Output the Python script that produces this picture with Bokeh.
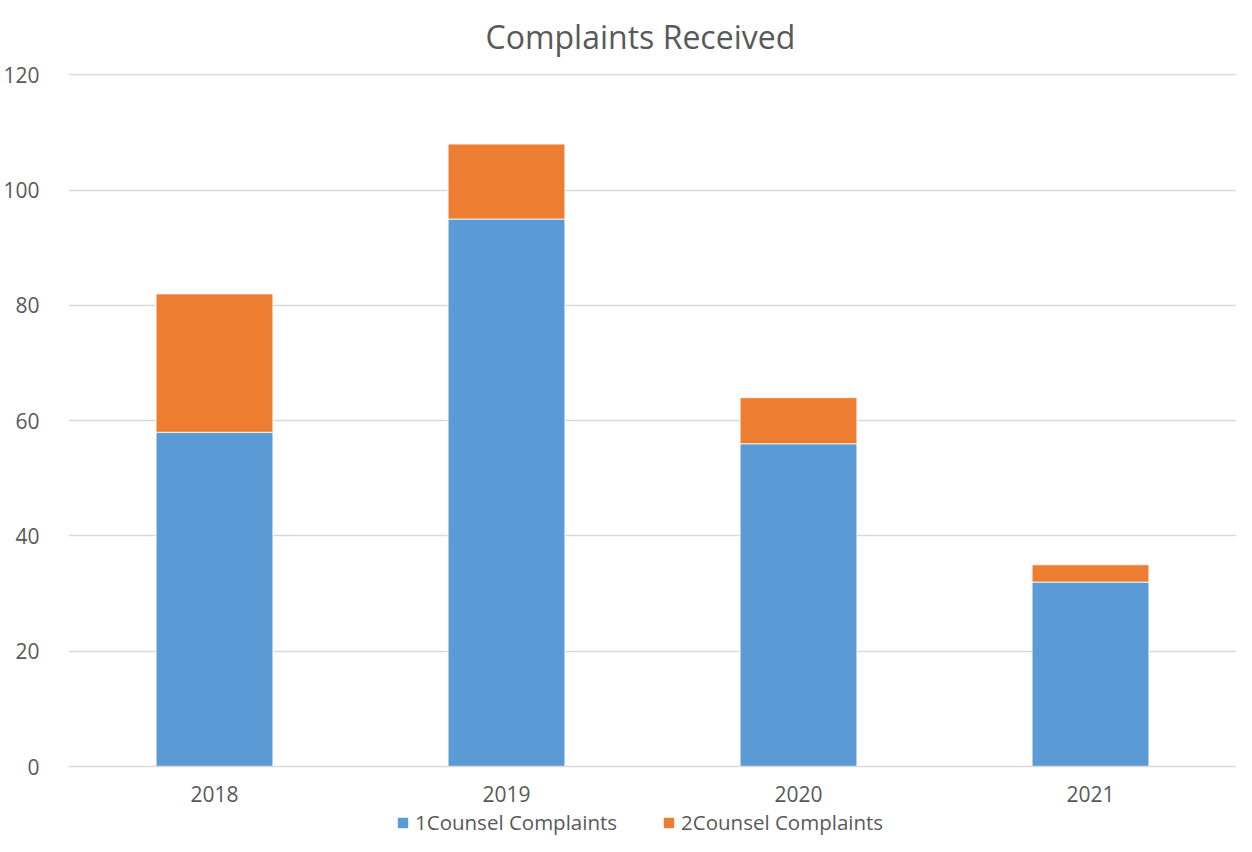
from bokeh.plotting import figure
from bokeh.models import FactorRange, Range1d, FixedTicker, Legend, LegendItem, ColumnDataSource, Title
from bokeh.layouts import column
from bokeh.embed import file_html
from bokeh.resources import INLINE

years = ["2018", "2019", "2020", "2021"]
counsel1 = [58, 95, 56, 32]
counsel2 = [24, 13, 8, 3]
series = ["1Counsel Complaints", "2Counsel Complaints"]
colors = ["#5B9BD5", "#ED7D31"]
y_ticks = [0, 20, 40, 60, 80, 100, 120]

FONT = "Open Sans"
TXT = "#595959"

src = ColumnDataSource(dict(year=years, c1=counsel1, c2=counsel2))

p = figure(width=1236, height=806, output_backend="svg", toolbar_location=None,
           x_range=FactorRange(factors=years, range_padding=0),
           y_range=Range1d(0, 120.25), title=None)
p.min_border_left = 63
p.min_border_right = 0
p.min_border_top = 72
p.min_border_bottom = 40
p.outline_line_color = None

p.add_layout(Title(text="Complaints Received", align="left", offset=417, vertical_align="top",
                   text_font=FONT, text_font_size="32px", text_font_style="normal",
                   text_color=TXT, standoff=28), "above")

rs = p.vbar_stack(["c1", "c2"], x="year", width=0.4, source=src, color=colors,
                  line_color="white", line_width=0.8)

p.xgrid.grid_line_color = None
p.ygrid.grid_line_color = "#D9D9D9"
p.ygrid.grid_line_width = 1.5
p.yaxis.ticker = FixedTicker(ticks=y_ticks)
p.yaxis.axis_line_color = None
p.yaxis.major_tick_line_color = None
p.yaxis.minor_tick_line_color = None
p.yaxis.major_label_standoff = 23
p.xaxis.axis_line_color = "#D9D9D9"
p.xaxis.axis_line_width = 1.5
p.xaxis.major_tick_line_color = None
p.xaxis.major_label_standoff = 13
for ax in (p.xaxis, p.yaxis):
    ax.major_label_text_font = FONT
    ax.major_label_text_font_size = "21px"
    ax.major_label_text_color = TXT

# legend strip below the chart; swatches come from zero-size proxy bars
leg = figure(width=1236, height=30, output_backend="svg", toolbar_location=None,
             x_range=Range1d(0, 1), y_range=Range1d(0, 1), min_border=0)
leg.axis.visible = False
leg.grid.grid_line_color = None
leg.outline_line_color = None
proxy = ColumnDataSource(dict(x=[0.5], top=[0], bottom=[0]))
dummies = [leg.vbar(x="x", top="top", bottom="bottom", width=0, source=proxy,
                    fill_color=c, line_alpha=0) for c in colors]
legend = Legend(items=[LegendItem(label=series[i], renderers=[dummies[i]]) for i in range(2)],
                orientation="horizontal", location=(328, 0),
                glyph_width=13, glyph_height=13, label_standoff=6, spacing=45,
                label_text_font=FONT, label_text_font_size="20.5px", label_text_color=TXT,
                border_line_alpha=0, background_fill_alpha=0, padding=0, margin=0)
leg.add_layout(legend, "center")

layout = column(p, leg, spacing=0)
open("out.html", "w").write(file_html(layout, INLINE))
